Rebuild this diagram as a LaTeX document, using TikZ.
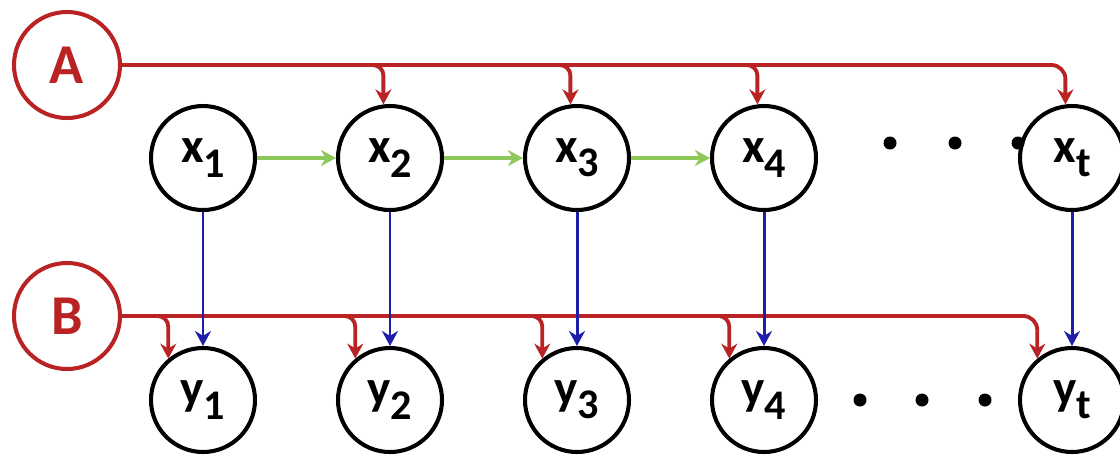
\documentclass[tikz,border=0pt]{standalone}
\usepackage{fontspec}
\setmainfont{Carlito}
\usepackage{tikz}
\usetikzlibrary{arrows.meta,calc}
\definecolor{parred}{RGB}{185,35,35}
\definecolor{obsblue}{RGB}{30,30,170}
\definecolor{trgreen}{RGB}{140,200,90}
\newcommand{\nsub}[1]{\raisebox{-0.6ex}{\fontsize{12}{13}\selectfont #1}}

\begin{document}
\begin{tikzpicture}[->,>={Stealth[length=1.5mm,width=1.6mm]},shorten >=0pt,node distance=1.87cm,
                    semithick,font=\fontsize{14}{16}\selectfont\bfseries]
  \tikzstyle{var}=[circle,draw=black,line width=1.15pt,minimum size=1.04cm,inner sep=0pt]
  \tikzstyle{param}=[circle,draw=parred,text=parred,line width=1.15pt,minimum size=1.06cm,
                     inner sep=0pt,font=\fontsize{16}{18}\selectfont\bfseries]
  \tikzstyle{pline}=[draw=parred,line width=1.1pt]
  \tikzstyle{emit}=[draw=obsblue,line width=0.85pt]
  \tikzstyle{trans}=[draw=trgreen,line width=1pt]
  \tikzstyle{dot}=[circle,fill=black,minimum size=0.13cm,inner sep=0pt]

  \useasboundingbox (0,0) rectangle (11.2,4.55);

  \node[param] (A) at (0.67,3.90) {A};
  \node[param] (B) at (0.67,1.39) {B};

  \node[var] (x1) at (2.03,2.97) {x\nsub{1}};
  \node[var] (x2) [right of=x1] {x\nsub{2}};
  \node[var] (x3) [right of=x2] {x\nsub{3}};
  \node[var] (x4) [right of=x3] {x\nsub{4}};
  \node[var] (xt) at (10.72,2.97) {x\nsub{t}};

  \node[var] (y1) at (2.03,0.55) {y\nsub{1}};
  \node[var] (y2) [right of=y1] {y\nsub{2}};
  \node[var] (y3) [right of=y2] {y\nsub{3}};
  \node[var] (y4) [right of=y3] {y\nsub{4}};
  \node[var] (yt) at (10.72,0.55) {y\nsub{t}};

  \foreach \d/\px in {1/8.90,2/9.55,3/10.18}
    \node[dot] (xdot\d) at (\px,3.12) {};
  \foreach \d/\px in {1/8.60,2/9.22,3/9.85}
    \node[dot] (ydot\d) at (\px,0.55) {};

  % A feeds the hidden chain
  \draw[pline,rounded corners=4pt] (A) -| (xt.97);
  \foreach \n in {x2,x3,x4}
    \draw[pline,rounded corners=3pt] ($(\n.97 |- A.east)+(-0.12,0)$) -| (\n.97);

  % B feeds the outputs
  \draw[pline,rounded corners=4pt] (B) -| (yt.130);
  \foreach \n in {y1,y2,y3,y4}
    \draw[pline,rounded corners=3pt] ($(\n.130 |- B.east)+(-0.12,0)$) -| (\n.130);

  \foreach \a/\b in {x1/x2,x2/x3,x3/x4}
    \draw[trans] (\a) -- (\b);

  \foreach \i in {1,2,3,4,t}
    \draw[emit] (x\i) -- (y\i);

\end{tikzpicture}
\end{document}
